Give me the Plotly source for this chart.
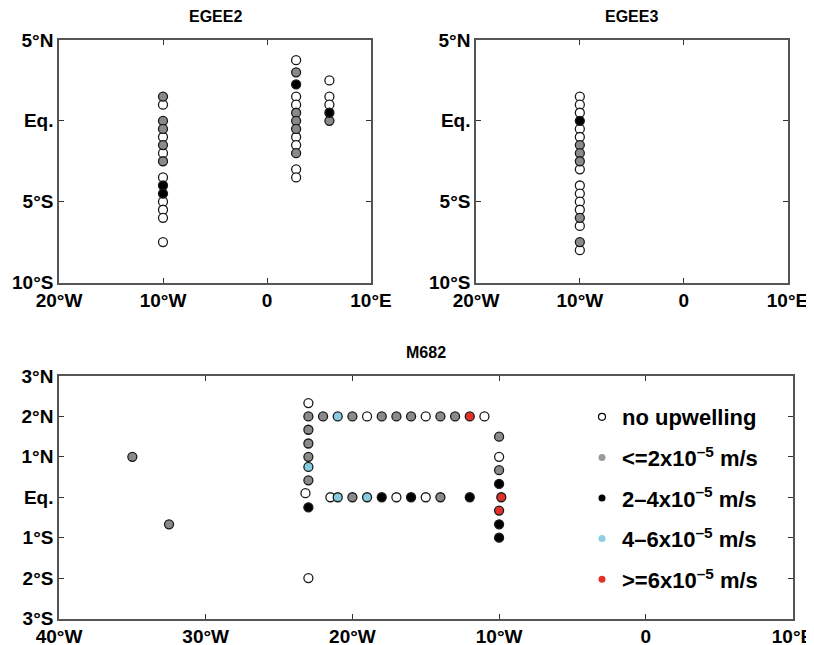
import plotly.graph_objects as go

W, H = 814, 645
OX, OY = 8, 8  # page body margin offset

# ---------------- data ----------------
categories = ["no upwelling", "<=2x10<sup>–5</sup> m/s", "2–4x10<sup>–5</sup> m/s",
              "4–6x10<sup>–5</sup> m/s", ">=6x10<sup>–5</sup> m/s"]
cat_fill = ["#ffffff", "#8a8a8a", "#000000", "#85cbe0", "#e2302b"]
legend_fill = ["#ffffff", "#9a9a9a", "#000000", "#8ccfe2", "#e2302b"]

# EGEE2
egee2_lon = [-10]*15 + [2.8]*13 + [6]*5
egee2_lat = [1.5, 1, 0, -0.5, -1, -1.5, -2, -2.5, -3.5, -4, -4.5, -5, -5.5, -6, -7.5,
             3.75, 3, 2.25, 1.5, 1, 0.5, 0, -0.5, -1, -1.5, -2, -3, -3.5,
             2.5, 1.5, 1, 0.5, 0]
egee2_cat = [1, 0, 1, 1, 0, 1, 0, 1, 0, 2, 2, 0, 0, 0, 0,
             0, 1, 2, 0, 0, 1, 1, 1, 0, 0, 1, 0, 0,
             0, 0, 0, 2, 1]

# EGEE3
egee3_lon = [-10]*18
egee3_lat = [1.5, 1, 0.5, 0, -0.5, -1, -1.5, -2, -2.5, -3, -4, -4.5, -5, -5.5, -6, -6.5, -7.5, -8]
egee3_cat = [0, 0, 0, 2, 0, 0, 1, 1, 1, 0, 0, 0, 0, 0, 1, 0, 1, 0]

# M682
m682_lon = ([-23, -22, -21, -20, -19, -18, -17, -16, -15, -14, -13, -12, -11] +
            [-23, -23, -23, -23, -23, -23, -23.2, -23, -23] +
            [-21.5, -21, -20, -19, -18, -17, -16, -15, -14, -12] +
            [-10, -10, -10, -10, -9.85, -10, -10, -10] +
            [-35, -32.5])
m682_lat = ([2]*13 +
            [2.33, 1.67, 1.33, 1.0, 0.75, 0.42, 0.1, -0.25, -2.0] +
            [0]*10 +
            [1.5, 1.0, 0.67, 0.33, 0.0, -0.33, -0.67, -1.0] +
            [1.0, -0.67])
m682_cat = ([1, 1, 3, 1, 0, 1, 1, 1, 0, 1, 1, 4, 0] +
            [0, 1, 1, 1, 3, 1, 0, 2, 0] +
            [0, 3, 1, 3, 2, 0, 2, 0, 1, 2] +
            [1, 0, 1, 2, 4, 4, 2, 2] +
            [1, 1])

egee_lon_ticks = [-20, -10, 0, 10]
egee_lat_ticks = [-10, -5, 0, 5]
m682_lon_ticks = [-40, -30, -20, -10, 0, 10]
m682_lat_ticks = [-3, -2, -1, 0, 1, 2, 3]

panel_titles = ["EGEE2", "EGEE3", "M682"]


def lon_label(v):
    if v < 0:
        return f"{-v}°W"
    if v > 0:
        return f"{v}°E"
    return "0"


def lat_label(v):
    if v < 0:
        return f"{-v}°S"
    if v > 0:
        return f"{v}°N"
    return "Eq."


# ---------------- figure ----------------
fig = go.Figure()

panels = [
    (egee2_lon, egee2_lat, egee2_cat, "x", "y"),
    (egee3_lon, egee3_lat, egee3_cat, "x2", "y2"),
    (m682_lon, m682_lat, m682_cat, "x3", "y3"),
]

for lons, lats, cats, xa, ya in panels:
    for c in range(len(categories)):
        xs = [lo for lo, k in zip(lons, cats) if k == c]
        ys = [la for la, k in zip(lats, cats) if k == c]
        if not xs:
            continue
        fig.add_trace(go.Scatter(
            x=xs, y=ys, xaxis=xa, yaxis=ya, mode="markers",
            marker=dict(size=9, color=cat_fill[c], line=dict(color="#1a1a1a", width=1.3)),
            showlegend=False, hoverinfo="skip"))

# legend entries
for c, name in enumerate(categories):
    fig.add_trace(go.Scatter(
        x=[None], y=[None], xaxis="x3", yaxis="y3", mode="markers", name=name,
        legendgroup=f"g{c}",
        marker=dict(size=7, color=legend_fill[c],
                    line=dict(color="#000000", width=1.2 if c == 0 else 0))))

font_family = "Liberation Sans, Arial, Helvetica, sans-serif"
tickfont = dict(family=font_family, size=19, color="#000000", weight="bold")

axis_common = dict(showline=True, linecolor="#555555", linewidth=1.5, mirror="ticks",
                   ticks="inside", ticklen=5, tickwidth=1.2, tickcolor="#333333",
                   showgrid=False, zeroline=False, tickfont=tickfont, fixedrange=True,
                   automargin=False)


def px_x(a):
    return (a - OX) / W


def px_y(a):
    return 1 - (a - OY) / H


def xdom(a, b):
    return [px_x(a), px_x(b)]


def ydom(top, bottom):
    return [px_y(bottom), px_y(top)]


fig.update_layout(
    width=W, height=H, autosize=False,
    margin=dict(l=0, r=0, t=0, b=0, pad=0),
    paper_bgcolor="white", plot_bgcolor="white",
    xaxis=dict(domain=xdom(59, 371), anchor="y", range=[-20, 10],
               tickvals=egee_lon_ticks, ticktext=[lon_label(v) for v in egee_lon_ticks], **axis_common),
    yaxis=dict(domain=ydom(40, 282.5), anchor="x", range=[-10, 5],
               tickvals=egee_lat_ticks, ticktext=[lat_label(v) for v in egee_lat_ticks], **axis_common),
    xaxis2=dict(domain=xdom(476, 787.5), anchor="y2", range=[-20, 10],
                tickvals=egee_lon_ticks, ticktext=[lon_label(v) for v in egee_lon_ticks], **axis_common),
    yaxis2=dict(domain=ydom(40, 282.5), anchor="x2", range=[-10, 5],
                tickvals=egee_lat_ticks, ticktext=[lat_label(v) for v in egee_lat_ticks], **axis_common),
    xaxis3=dict(domain=xdom(59, 792.5), anchor="y3", range=[-40, 10],
                tickvals=m682_lon_ticks, ticktext=[lon_label(v) for v in m682_lon_ticks], **axis_common),
    yaxis3=dict(domain=ydom(376, 618.5), anchor="x3", range=[-3, 3],
                tickvals=m682_lat_ticks, ticktext=[lat_label(v) for v in m682_lat_ticks], **axis_common),
    showlegend=True,
    legend=dict(x=px_x(582), y=px_y(396), xanchor="left", yanchor="top",
                bgcolor="rgba(0,0,0,0)", borderwidth=0, traceorder="grouped",
                tracegroupgap=9,
                font=dict(family=font_family, size=22, color="#000000", weight="bold")),
)

title_pos = [((59 + 371) / 2, 17), ((476 + 787.5) / 2, 17), ((59 + 792.5) / 2, 353)]
for t, (px, py) in zip(panel_titles, title_pos):
    fig.add_annotation(text=t, x=px_x(px), y=px_y(py), xref="paper", yref="paper",
                       showarrow=False, xanchor="center", yanchor="middle",
                       font=dict(family=font_family, size=16, color="#000000", weight="bold"))

fig.write_html("out.html")
